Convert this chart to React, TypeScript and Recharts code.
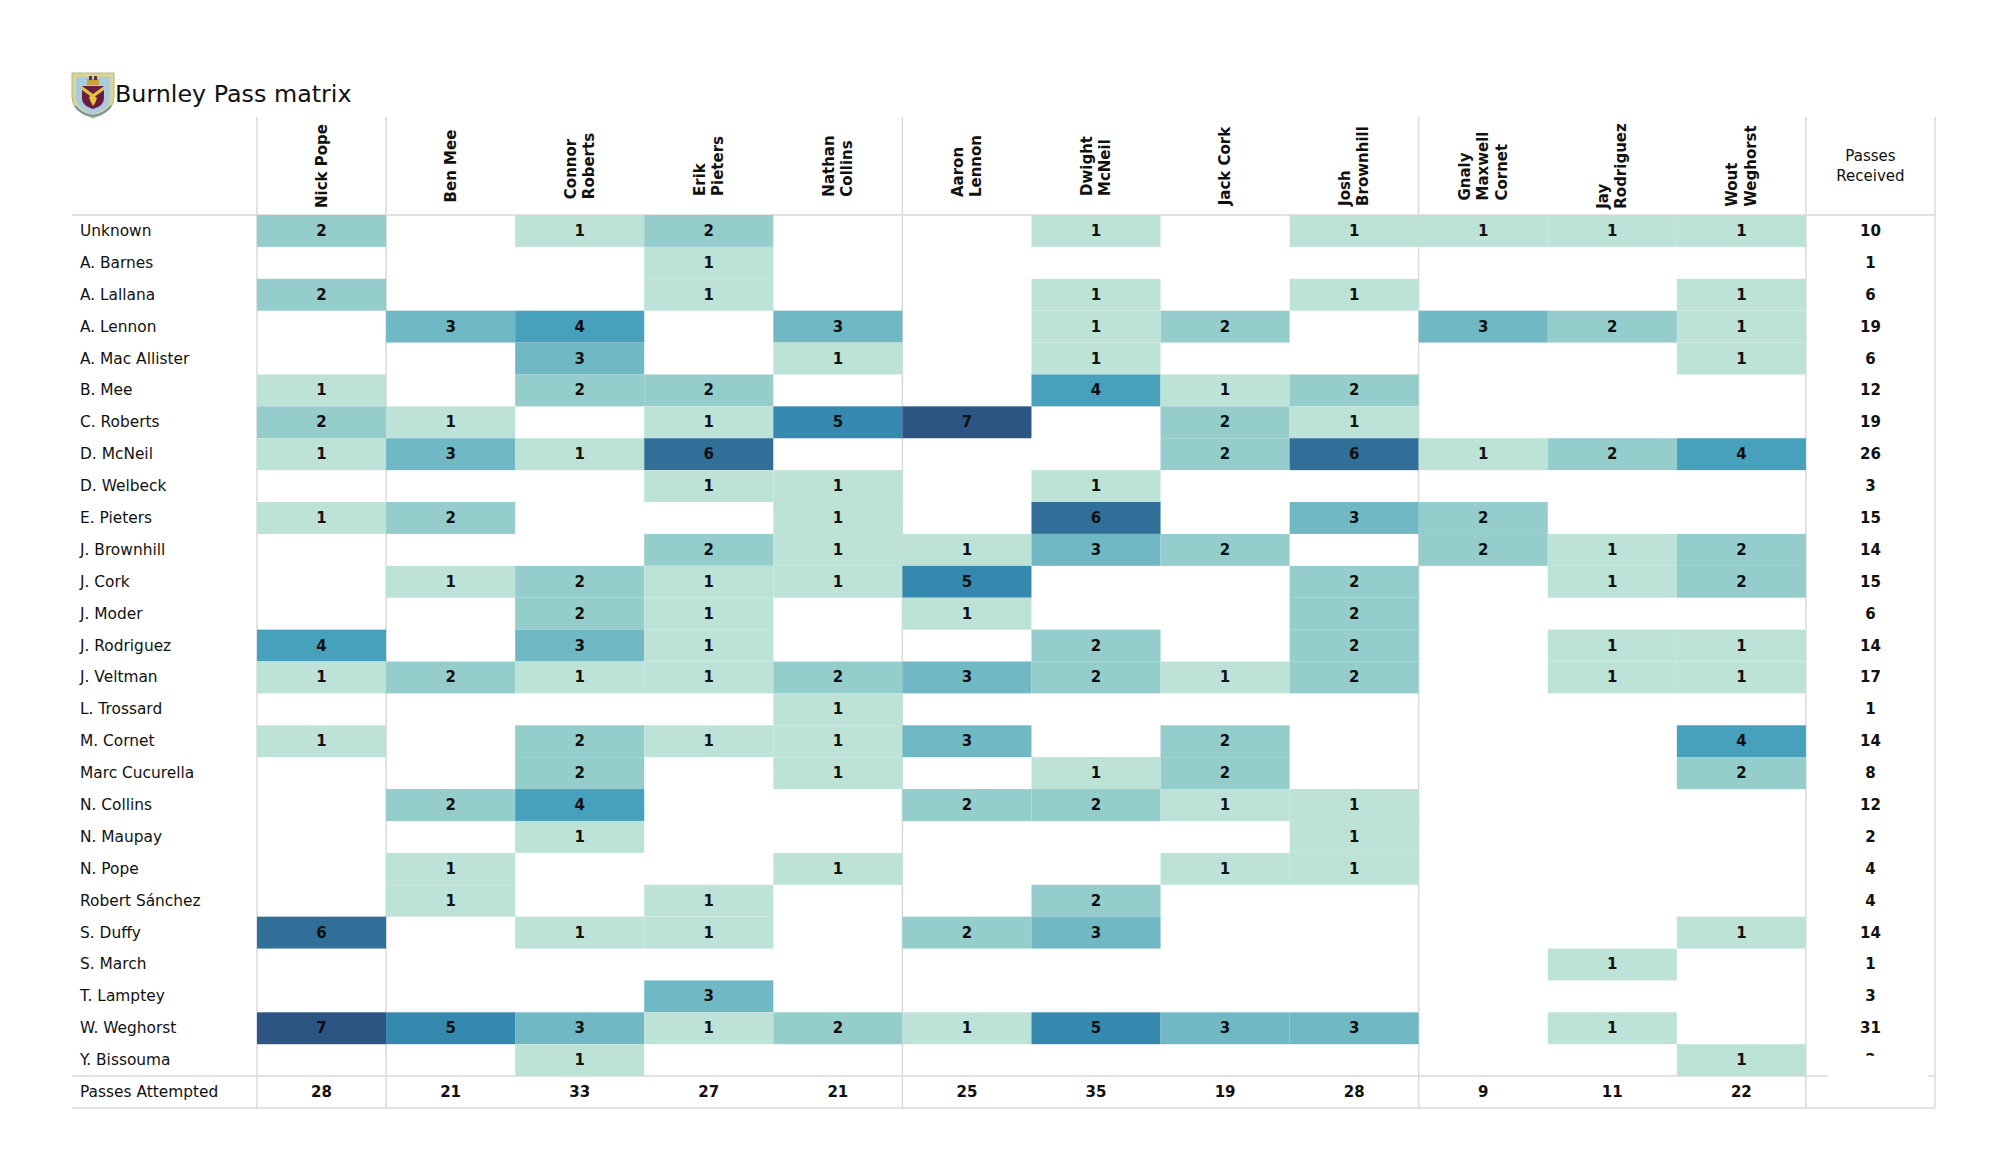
import { ReferenceLine, Scatter, ScatterChart, XAxis, YAxis } from 'recharts';

// Burnley pass matrix: rows = passer list from the source, columns = Burnley players.
// Cells are drawn as Scatter points with a rect shape sized to one grid cell.

const columnPlayers = [
  'Nick Pope',
  'Ben Mee',
  'Connor\nRoberts',
  'Erik\nPieters',
  'Nathan\nCollins',
  'Aaron\nLennon',
  'Dwight\nMcNeil',
  'Jack Cork',
  'Josh\nBrownhill',
  'Gnaly\nMaxwell\nCornet',
  'Jay\nRodriguez',
  'Wout\nWeghorst',
];

const rowPlayers = [
  'Unknown',
  'A. Barnes',
  'A. Lallana',
  'A. Lennon',
  'A. Mac Allister',
  'B. Mee',
  'C. Roberts',
  'D. McNeil',
  'D. Welbeck',
  'E. Pieters',
  'J. Brownhill',
  'J. Cork',
  'J. Moder',
  'J. Rodriguez',
  'J. Veltman',
  'L. Trossard',
  'M. Cornet',
  'Marc Cucurella',
  'N. Collins',
  'N. Maupay',
  'N. Pope',
  'Robert Sánchez',
  'S. Duffy',
  'S. March',
  'T. Lamptey',
  'W. Weghorst',
  'Y. Bissouma',
];

// one row per entry of rowPlayers, one value per entry of columnPlayers
const passMatrix = [
  [2, 0, 1, 2, 0, 0, 1, 0, 1, 1, 1, 1],
  [0, 0, 0, 1, 0, 0, 0, 0, 0, 0, 0, 0],
  [2, 0, 0, 1, 0, 0, 1, 0, 1, 0, 0, 1],
  [0, 3, 4, 0, 3, 0, 1, 2, 0, 3, 2, 1],
  [0, 0, 3, 0, 1, 0, 1, 0, 0, 0, 0, 1],
  [1, 0, 2, 2, 0, 0, 4, 1, 2, 0, 0, 0],
  [2, 1, 0, 1, 5, 7, 0, 2, 1, 0, 0, 0],
  [1, 3, 1, 6, 0, 0, 0, 2, 6, 1, 2, 4],
  [0, 0, 0, 1, 1, 0, 1, 0, 0, 0, 0, 0],
  [1, 2, 0, 0, 1, 0, 6, 0, 3, 2, 0, 0],
  [0, 0, 0, 2, 1, 1, 3, 2, 0, 2, 1, 2],
  [0, 1, 2, 1, 1, 5, 0, 0, 2, 0, 1, 2],
  [0, 0, 2, 1, 0, 1, 0, 0, 2, 0, 0, 0],
  [4, 0, 3, 1, 0, 0, 2, 0, 2, 0, 1, 1],
  [1, 2, 1, 1, 2, 3, 2, 1, 2, 0, 1, 1],
  [0, 0, 0, 0, 1, 0, 0, 0, 0, 0, 0, 0],
  [1, 0, 2, 1, 1, 3, 0, 2, 0, 0, 0, 4],
  [0, 0, 2, 0, 1, 0, 1, 2, 0, 0, 0, 2],
  [0, 2, 4, 0, 0, 2, 2, 1, 1, 0, 0, 0],
  [0, 0, 1, 0, 0, 0, 0, 0, 1, 0, 0, 0],
  [0, 1, 0, 0, 1, 0, 0, 1, 1, 0, 0, 0],
  [0, 1, 0, 1, 0, 0, 2, 0, 0, 0, 0, 0],
  [6, 0, 1, 1, 0, 2, 3, 0, 0, 0, 0, 1],
  [0, 0, 0, 0, 0, 0, 0, 0, 0, 0, 1, 0],
  [0, 0, 0, 3, 0, 0, 0, 0, 0, 0, 0, 0],
  [7, 5, 3, 1, 2, 1, 5, 3, 3, 0, 1, 0],
  [0, 0, 1, 0, 0, 0, 0, 0, 0, 0, 0, 1],
];

const passesReceived = [10, 1, 6, 19, 6, 12, 19, 26, 3, 15, 14, 15, 6, 14, 17, 1, 14, 8, 12, 2, 4, 4, 14, 1, 3, 31, 2];
const passesAttempted = [28, 21, 33, 27, 21, 25, 35, 19, 28, 9, 11, 22];

// colour for 1..7 passes
const cellColors = ['#bde3d8', '#95cdcd', '#6fb8c4', '#48a1bc', '#3689ae', '#316f98', '#2c5584'];
// position group boundaries (column index)
const groupEdges = [0, 1, 5, 9, 12, 13];

const W = 2000;
const H = 1175;
const MARGIN = { top: 117, right: 65, bottom: 67, left: 72 };
const LABEL_W = 185;
const HEADER_H = 98;
const NCOLS = 13;
const NROWS = 28;
const CELL_W = (W - MARGIN.left - MARGIN.right - LABEL_W) / NCOLS;
const CELL_H = (H - MARGIN.top - MARGIN.bottom - HEADER_H) / NROWS;
const HEADER_MID = MARGIN.top + HEADER_H / 2;
const LEFT_EDGE = -LABEL_W / CELL_W;
const TOP_EDGE = -HEADER_H / CELL_H;

const FONT = '"DejaVu Sans", sans-serif';
const LINE = '#dadada';

let measureCtx: CanvasRenderingContext2D | null = null;
function textWidth(s: string, font: string) {
  if (!measureCtx) measureCtx = document.createElement('canvas').getContext('2d');
  if (!measureCtx) return s.length * 9;
  measureCtx.font = font;
  return measureCtx.measureText(s).width;
}

const cells = passMatrix.flatMap((row, r) =>
  row.map((v, c) => ({ x: c + 0.5, y: r + 0.5, v })).filter((d) => d.v > 0),
);
const totals = [
  ...passesReceived.map((v, r) => ({ x: NCOLS - 0.5, y: r + 0.5, v, clip: r === passesReceived.length - 1 })),
  ...passesAttempted.map((v, c) => ({ x: c + 0.5, y: NROWS - 0.5, v, clip: false })),
];

const colTicks = Array.from({ length: NCOLS }, (_, i) => i + 0.5);
const rowTicks = Array.from({ length: NROWS }, (_, i) => i + 0.5);

function HeaderTick(props: any) {
  const { x, payload } = props;
  const idx = Math.floor(payload.value);
  if (idx >= columnPlayers.length) {
    return (
      <g>
        {['Passes', 'Received'].map((s, i) => (
          <text key={s} x={x} y={HEADER_MID + (i - 0.5) * 20} textAnchor="middle" dominantBaseline="central"
            fontFamily={FONT} fontSize={15} fill="#111">
            {s}
          </text>
        ))}
      </g>
    );
  }
  const lines = columnPlayers[idx].split('\n');
  const font = `bold 15px ${FONT}`;
  const maxW = Math.max(...lines.map((s) => textWidth(s, font)));
  const bottom = HEADER_MID + maxW / 2;
  const lh = 18.3;
  return (
    <g>
      {lines.map((s, i) => {
        const sx = x + (i - (lines.length - 1) / 2) * lh;
        return (
          <text key={s} x={sx} y={bottom} transform={`rotate(-90 ${sx} ${bottom})`} textAnchor="start"
            dominantBaseline="central" fontFamily={FONT} fontSize={15} fontWeight="bold" fill="#111">
            {s}
          </text>
        );
      })}
    </g>
  );
}

function RowTick(props: any) {
  const { y, payload } = props;
  const idx = Math.floor(payload.value);
  const label = idx < rowPlayers.length ? rowPlayers[idx] : 'Passes Attempted';
  return (
    <text x={80} y={y} textAnchor="start" dominantBaseline="central" fontFamily={FONT} fontSize={15.4} fill="#111">
      {label}
    </text>
  );
}

function CellShape(props: any) {
  const { cx, cy, payload } = props;
  return (
    <g>
      <rect x={cx - CELL_W / 2} y={cy - CELL_H / 2} width={CELL_W} height={CELL_H} fill={cellColors[payload.v - 1]} />
      <text x={cx} y={cy} textAnchor="middle" dominantBaseline="central" fontFamily={FONT} fontSize={15}
        fontWeight="bold" fill="#111">
        {payload.v}
      </text>
    </g>
  );
}

function TotalShape(props: any) {
  const { cx, cy, payload } = props;
  const id = `clip-total-${Math.round(cx)}-${Math.round(cy)}`;
  return (
    <g>
      {payload.clip && (
        <defs>
          <clipPath id={id}>
            <rect x={cx - 20} y={cy - 12} width={40} height={7.5} />
          </clipPath>
        </defs>
      )}
      <text x={cx} y={cy} textAnchor="middle" dominantBaseline="central" fontFamily={FONT} fontSize={15}
        fontWeight="bold" fill="#111" clipPath={payload.clip ? `url(#${id})` : undefined}>
        {payload.v}
      </text>
    </g>
  );
}

function Crest() {
  return (
    <svg width={48} height={50} style={{ position: 'absolute', left: 69, top: 70 }} viewBox="0 0 48 50">
      <path d="M3 3 H45 V27 Q45 42 24 48 Q3 42 3 27 Z" fill="#d8d59a" stroke="#b9b47a" strokeWidth={1} />
      <path d="M7 7 H41 V27 Q41 39 24 44 Q7 39 7 27 Z" fill="#a9cbe2" />
      <rect x={18} y={9} width={12} height={6} fill="#c9a23a" />
      <rect x={20} y={6} width={3} height={4} fill="#6b2a3a" />
      <rect x={25} y={6} width={3} height={4} fill="#6b2a3a" />
      <path d="M13 16 H35 V28 Q35 36 24 39 Q13 36 13 28 Z" fill="#6b1d3f" />
      <path d="M13 16 L24 24 L35 16 V20 L24 28 L13 20 Z" fill="#e2c042" />
      <path d="M20 27 Q24 24 28 28 Q26 34 24 36 Q22 33 20 27 Z" fill="#e8c53c" />
      <path d="M6 36 Q12 44 24 46 Q36 44 42 36" fill="none" stroke="#6b8fb1" strokeWidth={2} />
    </svg>
  );
}

export default function App() {
  return (
    <div style={{ position: 'absolute', left: 0, top: 0, width: W, height: H, background: '#fff' }}>
      <Crest />
      <div style={{ position: 'absolute', left: 115, top: 80, fontFamily: FONT, fontSize: 23.8, color: '#111', lineHeight: '28px' }}>
        Burnley Pass matrix
      </div>
      <ScatterChart width={W} height={H} margin={MARGIN}>
        <XAxis type="number" dataKey="x" orientation="top" domain={[0, NCOLS]} ticks={colTicks} interval={0}
          height={HEADER_H} axisLine={false} tickLine={false} tick={(p: any) => <HeaderTick {...p} />}
          allowDataOverflow />
        <YAxis type="number" dataKey="y" domain={[0, NROWS]} reversed ticks={rowTicks} interval={0} width={LABEL_W}
          axisLine={false} tickLine={false} tick={(p: any) => <RowTick {...p} />} allowDataOverflow />
        {groupEdges.map((gx) => (
          <ReferenceLine key={`v${gx}`} segment={[{ x: gx, y: TOP_EDGE }, { x: gx, y: NROWS }]} stroke={LINE}
            strokeWidth={1.5} ifOverflow="visible" />
        ))}
        <ReferenceLine segment={[{ x: LEFT_EDGE, y: 0 }, { x: NCOLS, y: 0 }]} stroke={LINE} strokeWidth={1.5} ifOverflow="visible" />
        <ReferenceLine segment={[{ x: LEFT_EDGE, y: NROWS - 1 }, { x: NCOLS - 0.83, y: NROWS - 1 }]} stroke={LINE}
          strokeWidth={1.5} ifOverflow="visible" />
        <ReferenceLine segment={[{ x: NCOLS - 0.055, y: NROWS - 1 }, { x: NCOLS, y: NROWS - 1 }]} stroke={LINE}
          strokeWidth={1.5} ifOverflow="visible" />
        <ReferenceLine segment={[{ x: LEFT_EDGE, y: NROWS }, { x: NCOLS, y: NROWS }]} stroke={LINE} strokeWidth={1.5} ifOverflow="visible" />
        <Scatter data={cells} shape={(p: any) => <CellShape {...p} />} isAnimationActive={false} />
        <Scatter data={totals} shape={(p: any) => <TotalShape {...p} />} isAnimationActive={false} />
      </ScatterChart>
    </div>
  );
}
